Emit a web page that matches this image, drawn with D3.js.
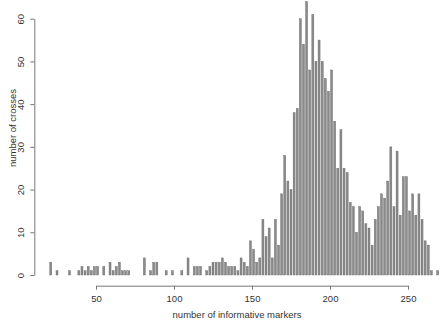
<!DOCTYPE html>
<html>
<head>
<meta charset="utf-8">
<script src="https://cdn.jsdelivr.net/npm/d3@7"></script>
<style>
  body { margin: 0; background: #fff; }
  svg text { font-family: "Liberation Sans", Arial, sans-serif; fill: #333; }
</style>
</head>
<body>
<div id="chart"></div>
<script>
// bins of width 2, first bin centred on 21 markers
const binStart = 20;
const binWidth = 2;
const crosses = [
  3, 0, 1, 0, 0, 0, 1, 0, 0, 1,   // 21-39
  2, 1, 2, 1, 2, 2, 0, 2, 0, 3,   // 41-59
  1, 2, 3, 1, 1, 1, 0, 0, 0, 0,   // 61-79
  4, 0, 1, 3, 3, 0, 0, 1, 0, 1,   // 81-99
  0, 0, 1, 0, 4, 0, 2, 2, 2, 0,   // 101-119
  1, 2, 3, 3, 3, 4, 3, 2, 2, 2,   // 121-139
  1, 4, 3, 2, 8, 6, 3, 4, 13, 9,  // 141-159
  11, 4, 13, 7, 19, 28, 22, 20, 38, 39, // 161-179
  60, 54, 64, 48, 61, 50, 55, 50, 46, 43, // 181-199
  48, 36, 25, 34, 25, 24, 17, 16, 10, 16, // 201-219
  15, 12, 11, 7, 13, 16, 19, 18, 22, 30, // 221-239
  16, 29, 14, 23, 23, 15, 19, 14, 19, 13, // 241-259
  8, 7, 1, 0, 1                          // 261-269
];
const xTicks = [50, 100, 150, 200, 250];
const yTicks = [0, 10, 20, 30, 40, 50, 60];

const bins = crosses.map((c, i) => ({ x0: binStart + i * binWidth, count: c }));

const width = 440, height = 320;
const svg = d3.select("#chart").append("svg")
    .attr("width", width)
    .attr("height", height);

// R-style plot: x 50 -> 96px, 250 -> 408px ; y 0 -> 275px, 60 -> 18.7px
const x = d3.scaleLinear().domain([50, 250]).range([96, 408]);
const y = d3.scaleLinear().domain([0, 60]).range([275, 18.7]);

// bars
svg.selectAll(".bar")
    .data(bins.filter(d => d.count > 0))
    .enter()
    .append("rect")
    .attr("class", "bar")
    .attr("x", d => x(d.x0 + binWidth / 2) - 1)
    .attr("width", 2)
    .attr("y", d => y(d.count))
    .attr("height", d => y(0) - y(d.count))
    .attr("fill", "#8a8a8a")
    .attr("stroke", "#666")
    .attr("stroke-width", 0.4);

// x axis
const xAxis = svg.append("g")
    .attr("transform", "translate(0,285.7)")
    .call(d3.axisBottom(x).tickValues(xTicks).tickSize(4).tickSizeOuter(0).tickPadding(6));
xAxis.select(".domain").attr("stroke", "#777");
xAxis.selectAll(".tick line").attr("stroke", "#777");
xAxis.selectAll("text").attr("font-size", "9.5px").attr("fill", "#2b2b2b");

// y axis
const yAxis = svg.append("g")
    .attr("transform", "translate(34.3,0)")
    .call(d3.axisLeft(y).tickValues(yTicks).tickSize(4).tickSizeOuter(0));
yAxis.select(".domain").attr("stroke", "#777");
yAxis.selectAll(".tick line").attr("stroke", "#777");
yAxis.selectAll("text")
    .attr("font-size", "9.5px")
    .attr("fill", "#2b2b2b")
    .attr("text-anchor", "middle")
    .attr("x", 0)
    .attr("dy", 0)
    .attr("transform", "translate(-10,0) rotate(-90)");

// axis titles
svg.append("text")
    .attr("x", 237)
    .attr("y", 318)
    .attr("text-anchor", "middle")
    .attr("font-size", "9.5px")
    .attr("fill", "#2b2b2b")
    .text("number of informative markers");

svg.append("text")
    .attr("transform", "translate(16,128) rotate(-90)")
    .attr("text-anchor", "middle")
    .attr("font-size", "9.5px")
    .attr("fill", "#2b2b2b")
    .text("number of crosses");
</script>
</body>
</html>
